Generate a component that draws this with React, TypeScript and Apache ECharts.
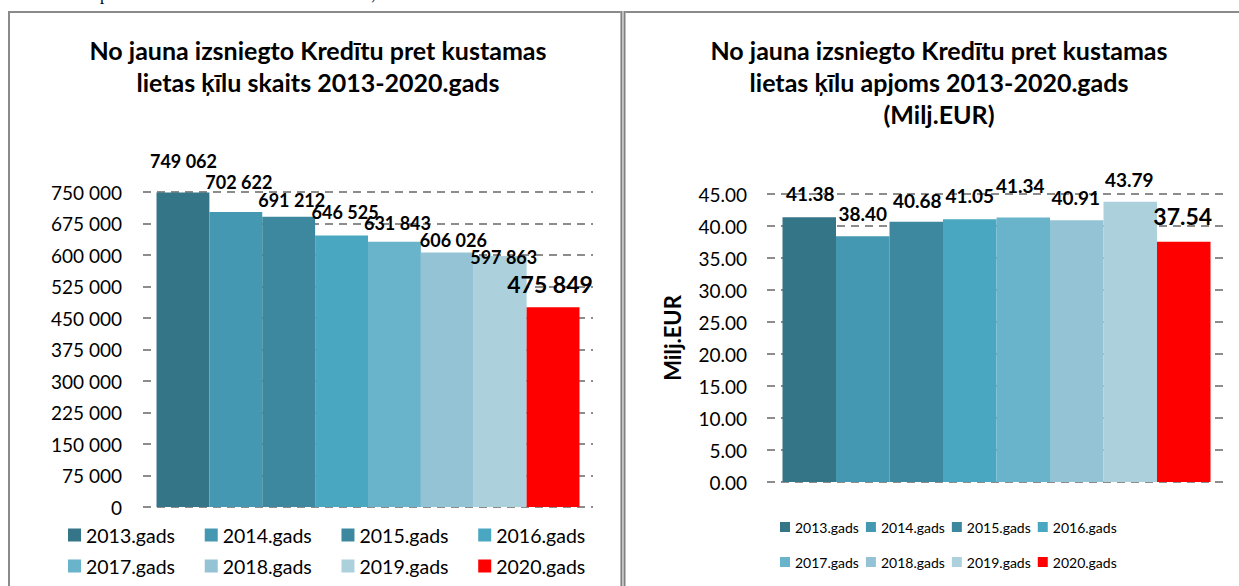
import React, { useEffect, useRef } from "react";
import * as echarts from "echarts";

const years = ["2013.gads", "2014.gads", "2015.gads", "2016.gads", "2017.gads", "2018.gads", "2019.gads", "2020.gads"];
const counts = [749062, 702622, 691212, 646525, 631843, 606026, 597863, 475849];
const volumes = [41.38, 38.4, 40.68, 41.05, 41.34, 40.91, 43.79, 37.54];
const countAxis = { min: 0, max: 750000, interval: 75000 };
const volumeAxis = { min: 0, max: 45, interval: 5 };
const titleLeft = ["No jauna izsniegto Kredītu pret kustamas", "lietas ķīlu skaits 2013-2020.gads"];
const titleRight = ["No jauna izsniegto Kredītu pret kustamas", "lietas ķīlu apjoms 2013-2020.gads", "(Milj.EUR)"];
const yNameRight = "Milj.EUR";

const colors = ["#347587", "#4498B1", "#3D889E", "#4AA7C1", "#69B3CB", "#94C3D5", "#ACD1DD", "#FF0000"];
const leftLabelOffsets = [[0.5, -22.7], [3, -20.9], [3, -7.7], [3.5, -14.8], [3, -9.9], [6, -3.5], [3.5, 9.8], [-3, -11.6]];
const rightLabelOffsets = [[1, -13.7], [0, -13.4], [1, -12.1], [0, -14.5], [-3, -22.5], [-1, -13.5], [-1, -12.9], [-1, -14.2]];

const FONT = "Lato";

function spaced(n: number): string {
  return String(Math.round(n)).replace(/\B(?=(\d{3})+(?!\d))/g, " ");
}

export default function App() {
  const ref = useRef<HTMLDivElement>(null);
  useEffect(() => {
    if (!ref.current) return;
    const chart = echarts.init(ref.current, undefined, { renderer: "svg" });
    const series: any[] = [];
    years.forEach((y, i) => {
      const last = i === years.length - 1;
      series.push({
        type: "bar",
        name: y,
        xAxisIndex: 0,
        yAxisIndex: 0,
        data: [counts[i]],
        barGap: "0%",
        barCategoryGap: "6%",
        itemStyle: { color: colors[i] },
        label: {
          show: true,
          position: "top",
          distance: 0,
          offset: leftLabelOffsets[i],
          fontFamily: FONT,
          fontWeight: "bold",
          fontSize: last ? 23 : 18,
          lineHeight: last ? 23 : 18,
          color: "#000",
          formatter: (p: any) => spaced(p.value),
        },
      });
    });
    years.forEach((y, i) => {
      const last = i === years.length - 1;
      series.push({
        type: "bar",
        name: y,
        xAxisIndex: 1,
        yAxisIndex: 1,
        data: [volumes[i]],
        barGap: "0%",
        barCategoryGap: "6.75%",
        itemStyle: { color: colors[i] },
        label: {
          show: true,
          position: "top",
          distance: 0,
          offset: rightLabelOffsets[i],
          fontFamily: FONT,
          fontWeight: "bold",
          fontSize: last ? 23 : 19,
          lineHeight: last ? 23 : 19,
          color: "#000",
          formatter: (p: any) => Number(p.value).toFixed(2),
        },
      });
    });

    const splitLine = { show: true, lineStyle: { color: "#8C8C8C", width: 2, type: [8, 6] } };
    const titleText = (t: string, x: number, y: number) => ({
      type: "text",
      x,
      y,
      silent: true,
      style: { text: t, align: "center", verticalAlign: "middle", fontFamily: FONT, fontWeight: "bold", fontSize: 25, fill: "#000" },
    });
    const legendBase = (data: string[], left: number, top: number, big: boolean) => ({
      data,
      left,
      top,
      itemWidth: big ? 13 : 10,
      itemHeight: big ? 13 : 10,
      itemGap: big ? 29.7 : 7,
      icon: "rect",
      selectedMode: false,
      textStyle: { fontFamily: FONT, fontSize: big ? 19.5 : 14, color: "#000" },
    });

    const option: any = {
      animation: false,
      backgroundColor: "#fff",
      textStyle: { fontFamily: FONT },
      grid: [
        { left: 143, top: 192, width: 450, height: 315, containLabel: false },
        { left: 767, top: 194, width: 459, height: 288, containLabel: false },
      ],
      xAxis: [0, 1].map((g) => ({
        type: "category",
        gridIndex: g,
        data: [""],
        axisLine: { show: false },
        axisTick: { show: false },
        axisLabel: { show: false },
      })),
      yAxis: [
        {
          type: "value",
          gridIndex: 0,
          min: countAxis.min,
          max: countAxis.max,
          interval: countAxis.interval,
          axisLine: { show: false },
          axisTick: { show: false },
          splitLine,
          axisLabel: { fontFamily: FONT, fontSize: 19, color: "#000", margin: 21, formatter: (v: number) => spaced(v) },
        },
        {
          type: "value",
          gridIndex: 1,
          min: volumeAxis.min,
          max: volumeAxis.max,
          interval: volumeAxis.interval,
          axisLine: { show: false },
          axisTick: { show: false },
          splitLine,
          name: yNameRight,
          nameLocation: "middle",
          nameGap: 84,
          nameRotate: 90,
          nameTextStyle: { fontFamily: FONT, fontWeight: "bold", fontSize: 22, color: "#000" },
          axisLabel: { fontFamily: FONT, fontSize: 19, color: "#000", margin: 20, formatter: (v: number) => v.toFixed(2) },
        },
      ],
      legend: [
        legendBase(years.slice(0, 4), 63, 520, true),
        legendBase(years.slice(4), 63, 551, true),
        legendBase(years.slice(0, 4), 775, 515, false),
        legendBase(years.slice(4), 775, 550, false),
      ],
      graphic: [
        { type: "text", x: 100, y: 3, silent: true, style: { text: "p", fontFamily: "Liberation Serif", fontSize: 17, fill: "#000", verticalAlign: "bottom" } },
        { type: "text", x: 371, y: 3, silent: true, style: { text: ";", fontFamily: "Liberation Serif", fontSize: 17, fill: "#000", verticalAlign: "bottom" } },
        { type: "line", silent: true, shape: { x1: 8, y1: 12, x2: 621, y2: 12 }, style: { stroke: "#8A8A8A", lineWidth: 2 } },
        { type: "line", silent: true, shape: { x1: 9, y1: 11, x2: 9, y2: 586 }, style: { stroke: "#8A8A8A", lineWidth: 2 } },
        { type: "line", silent: true, shape: { x1: 621, y1: 12, x2: 1239, y2: 12 }, style: { stroke: "#8A8A8A", lineWidth: 2 } },
        { type: "rect", silent: true, shape: { x: 620.5, y: 11, width: 5, height: 575 }, style: { fill: "#C8C8C8" } },
        { type: "line", silent: true, shape: { x1: 621.3, y1: 11, x2: 621.3, y2: 586 }, style: { stroke: "#808080", lineWidth: 1.5 } },
        { type: "line", silent: true, shape: { x1: 624.6, y1: 11, x2: 624.6, y2: 586 }, style: { stroke: "#808080", lineWidth: 1.5 } },
        titleText(titleLeft[0], 318, 50),
        titleText(titleLeft[1], 318, 82),
        titleText(titleRight[0], 939, 50),
        titleText(titleRight[1], 939, 82),
        titleText(titleRight[2], 939, 114),
      ],
      series,
    };
    chart.setOption(option);
    return () => chart.dispose();
  }, []);
  return <div ref={ref} style={{ position: "absolute", left: 0, top: 0, width: 1239, height: 586, background: "#fff" }} />;
}
